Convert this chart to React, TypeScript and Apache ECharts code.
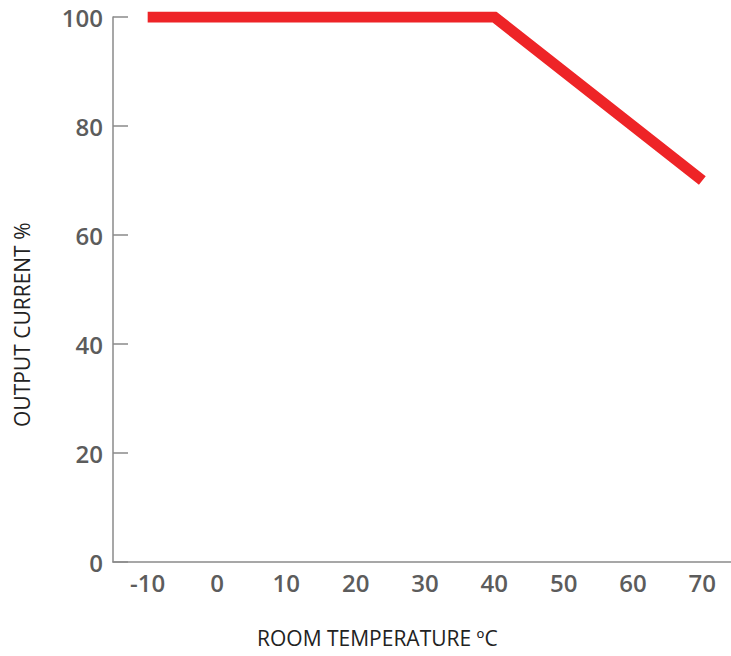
import React, { useEffect, useRef } from "react";
import * as echarts from "echarts";

const categories = ["-10", "0", "10", "20", "30", "40", "50", "60", "70"];
const curveX = ["-10", "40", "70"];
const curveY = [100, 100, 70];
const yTicks = [0, 20, 40, 60, 80, 100];
const xAxisName = "ROOM TEMPERATURE ºC";
const yAxisName = "OUTPUT CURRENT %";

export default function App() {
  const ref = useRef<HTMLDivElement>(null);
  useEffect(() => {
    document.body.style.margin = "0";
    const chart = echarts.init(ref.current!, null, { renderer: "svg" });
    const labelStyle = {
      color: "#5c5c5c",
      fontFamily: "Open Sans",
      fontWeight: 600,
      fontSize: 24,
    };
    chart.setOption({
      animation: false,
      grid: {
        left: 113,
        top: 17,
        height: 545,
        width: 624,
        containLabel: false,
        outerBoundsMode: "none",
      },
      xAxis: {
        type: "category",
        data: categories,
        boundaryGap: true,
        axisLine: { lineStyle: { color: "#8a8a8a", width: 1.5 } },
        axisTick: { inside: true, length: 15, lineStyle: { color: "#8a8a8a", width: 1.5 } },
        axisLabel: { ...labelStyle, margin: 8 },
        splitLine: { show: false },
      },
      yAxis: {
        type: "value",
        min: yTicks[0],
        max: yTicks[yTicks.length - 1],
        interval: 20,
        axisLine: { show: true, lineStyle: { color: "#8a8a8a", width: 1.5 } },
        axisTick: { show: true, inside: true, length: 15, lineStyle: { color: "#8a8a8a", width: 1.5 } },
        axisLabel: { ...labelStyle, margin: 10 },
        splitLine: { show: false },
      },
      graphic: [
        {
          type: "text",
          left: 257,
          top: 627,
          style: {
            text: xAxisName,
            fill: "#222",
            font: "400 21px 'Open Sans'",
          },
        },
        {
          type: "text",
          x: 11,
          y: 427,
          rotation: Math.PI / 2,
          style: {
            text: yAxisName,
            fill: "#222",
            font: "400 21px 'Open Sans'",
          },
        },
      ],
      series: [
        {
          type: "line",
          data: curveX.map((x, i) => [x, curveY[i]]),
          symbol: "none",
          lineStyle: { color: "#ee2427", width: 11, cap: "butt", join: "miter" },
        },
      ],
    });
    return () => chart.dispose();
  }, []);
  return <div ref={ref} style={{ width: 731, height: 656 }} />;
}
